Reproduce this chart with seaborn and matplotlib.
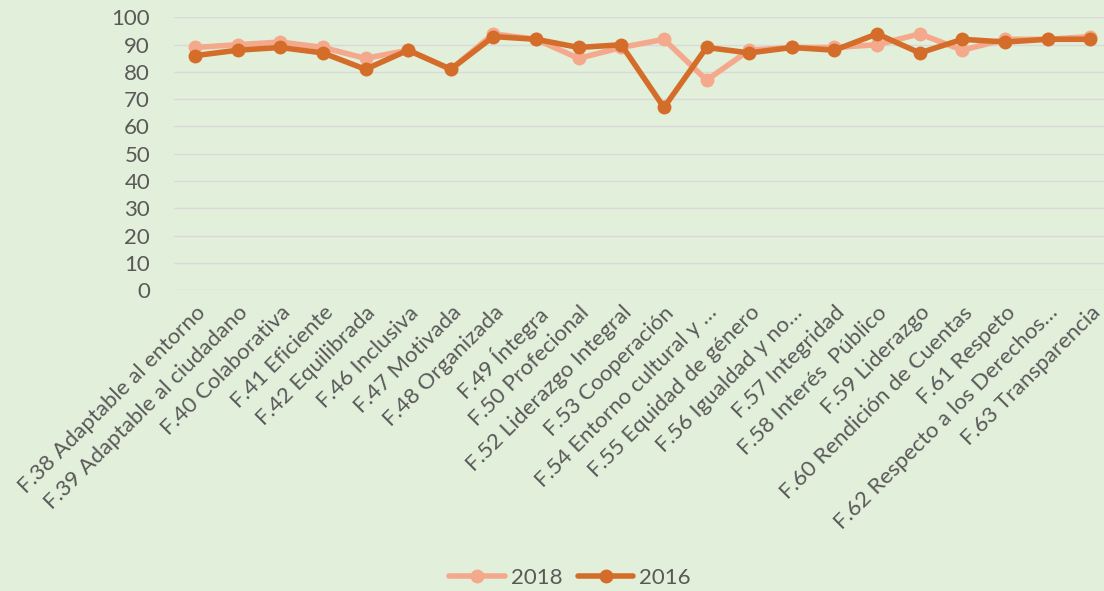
import matplotlib
matplotlib.use("Agg")
import matplotlib.pyplot as plt
import seaborn as sns
import pandas as pd

categories = [
    "F.38 Adaptable al entorno",
    "F.39 Adaptable al ciudadano",
    "F.40 Colaborativa",
    "F.41 Eficiente",
    "F.42 Equilibrada",
    "F.46 Inclusiva",
    "F.47 Motivada",
    "F.48 Organizada",
    "F.49 Íntegra",
    "F.50 Profecional",
    "F.52 Liderazgo Integral",
    "F.53 Cooperación",
    "F.54 Entorno cultural y …",
    "F.55 Equidad de género",
    "F.56 Igualdad y no…",
    "F.57 Integridad",
    "F.58 Interés  Público",
    "F.59 Liderazgo",
    "F.60 Rendición de Cuentas",
    "F.61 Respeto",
    "F.62 Respecto a los Derechos…",
    "F.63 Transparencia",
]

values_2018 = [89, 90, 91, 89, 85, 88, 81, 94, 92, 85, 89, 92, 77, 88, 89, 89, 90, 94, 88, 92, 92, 93]
values_2016 = [86, 88, 89, 87, 81, 88, 81, 93, 92, 89, 90, 67, 89, 87, 89, 88, 94, 87, 92, 91, 92, 92]

y_ticks = list(range(0, 101, 10))

bg = "#E2EFDA"
text_color = "#595959"
grid_color = "#D9D9D9"
color_2018 = "#F4A98C"
color_2016 = "#D46D29"

sns.set_theme(style="white")
plt.rcParams["font.family"] = ["Lato", "DejaVu Sans"]

positions = list(range(len(categories)))
df = pd.DataFrame({
    "pos": positions * 2,
    "valor": values_2018 + values_2016,
    "serie": ["2018"] * len(categories) + ["2016"] * len(categories),
})

fig = plt.figure(figsize=(11.04, 5.91), dpi=100, facecolor=bg)
ax = fig.add_axes([0.1573, 0.5093, 0.8496, 0.4611])
ax.set_facecolor(bg)

for serie, color in [("2018", color_2018), ("2016", color_2016)]:
    sns.lineplot(
        data=df[df["serie"] == serie], x="pos", y="valor",
        color=color, linewidth=4.0, marker="o", markersize=10,
        markeredgewidth=0, sort=False, ax=ax, label=serie,
    )

ax.set_xlim(-0.5, len(categories) - 0.5)
ax.set_ylim(0, 100)
ax.set_yticks(y_ticks)
ax.set_yticklabels([str(t) for t in y_ticks], fontsize=16, color=text_color)
ax.set_xticks(positions)
ax.set_xticklabels(categories, rotation=45, ha="right", rotation_mode="anchor",
                   fontsize=16, color=text_color)
ax.tick_params(axis="both", length=0)
ax.tick_params(axis="x", pad=9)
ax.tick_params(axis="y", pad=17)
ax.grid(axis="y", color=grid_color, linewidth=1.0)
ax.set_axisbelow(True)
for s in ax.spines.values():
    s.set_visible(False)
ax.set_xlabel("")
ax.set_ylabel("")

leg = ax.legend(loc="center", bbox_to_anchor=(570 / 1104, 13 / 591),
                bbox_transform=fig.transFigure, ncol=2, frameon=False,
                fontsize=16, handlelength=2.5, columnspacing=0.7,
                handletextpad=0.25, labelcolor=text_color)

fig.savefig("out.png", dpi=100, facecolor=bg)
